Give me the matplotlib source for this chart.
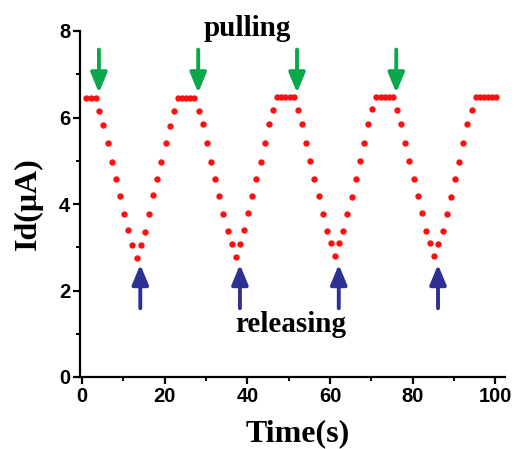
import matplotlib
matplotlib.use("Agg")
import matplotlib.pyplot as plt
from matplotlib.ticker import MultipleLocator
from matplotlib.patches import ArrowStyle

# ---- data ----
time_s = [1.0, 2.2, 3.3,
          4.2, 5.2, 6.2, 7.2, 8.2, 9.2, 10.2, 11.2, 12.2, 13.2,
          14.2, 15.2, 16.2, 17.2, 18.2, 19.2, 20.2, 21.2, 22.2,
          23.2, 24.2, 25.2, 26.2, 27.2,
          28.2, 29.2, 30.2, 31.2, 32.2, 33.2, 34.2, 35.2, 36.2, 37.2,
          38.2, 39.2, 40.2, 41.2, 42.2, 43.2, 44.2, 45.2, 46.2,
          47.2, 48.2, 49.2, 50.2, 51.2,
          52.2, 53.2, 54.2, 55.2, 56.2, 57.2, 58.2, 59.2, 60.2, 61.2,
          62.2, 63.2, 64.2, 65.2, 66.2, 67.2, 68.2, 69.2, 70.2,
          71.2, 72.2, 73.2, 74.2, 75.2,
          76.2, 77.2, 78.2, 79.2, 80.2, 81.2, 82.2, 83.2, 84.2, 85.2,
          86.2, 87.2, 88.2, 89.2, 90.2, 91.2, 92.2, 93.2, 94.2,
          95.2, 96.2, 97.2, 98.2, 99.2, 100.2]

current_uA = [6.45, 6.45, 6.44,
              6.16, 5.83, 5.40, 4.96, 4.57, 4.19, 3.78, 3.39, 3.06, 2.75,
              3.06, 3.36, 3.76, 4.20, 4.57, 4.96, 5.40, 5.80, 6.15,
              6.45, 6.46, 6.46, 6.46, 6.45,
              6.16, 5.84, 5.40, 4.97, 4.57, 4.19, 3.78, 3.38, 3.08, 2.78,
              3.08, 3.39, 3.79, 4.19, 4.58, 4.98, 5.40, 5.84, 6.18,
              6.47, 6.47, 6.47, 6.47, 6.47,
              6.17, 5.84, 5.40, 4.99, 4.58, 4.18, 3.78, 3.37, 3.09, 2.79,
              3.09, 3.37, 3.76, 4.17, 4.57, 4.99, 5.41, 5.84, 6.19,
              6.47, 6.47, 6.48, 6.48, 6.47,
              6.17, 5.84, 5.41, 4.99, 4.58, 4.18, 3.79, 3.37, 3.09, 2.79,
              3.08, 3.37, 3.77, 4.17, 4.57, 4.98, 5.40, 5.84, 6.17,
              6.48, 6.48, 6.48, 6.48, 6.48, 6.48]

pull_times = [4.1, 28.1, 52.0, 76.0]
release_times = [14.1, 38.2, 62.1, 86.1]
pull_tip, pull_tail = 6.57, 7.57
release_tip, release_tail = 2.60, 1.59

x_ticks = [0, 20, 40, 60, 80, 100]
y_ticks = [0, 2, 4, 6, 8]

# ---- figure ----
fig = plt.figure(figsize=(5.18, 4.49), dpi=100)
ax = fig.add_axes([80/518, 72/449, 425/518, 346/449])

ax.plot(time_s, current_uA, linestyle='none', marker='o', markersize=4.6,
        color='#ff1010', markeredgewidth=0)

green = '#0aa84a'
blue = '#2e3192'
style = ArrowStyle('-|>', head_length=0.46, head_width=0.19)
for t in pull_times:
    ax.annotate('', xy=(t, pull_tip), xytext=(t, pull_tail),
                arrowprops=dict(arrowstyle=style, color=green, lw=2.8,
                                mutation_scale=26, shrinkA=0, shrinkB=0),
                annotation_clip=False)
for t in release_times:
    ax.annotate('', xy=(t, release_tip), xytext=(t, release_tail),
                arrowprops=dict(arrowstyle=style, color=blue, lw=2.8,
                                mutation_scale=26, shrinkA=0, shrinkB=0),
                annotation_clip=False)

serif = 'Liberation Serif'
sans = 'Liberation Sans'
ax.text(40, 8.05, 'pulling', fontfamily=serif, fontweight='bold',
        fontsize=21, ha='center', va='center', clip_on=False)
ax.text(50.5, 1.22, 'releasing', fontfamily=serif, fontweight='bold',
        fontsize=21, ha='center', va='center')

ax.set_xlim(-0.48, 102.3)
ax.set_ylim(0, 8)
ax.set_xticks(x_ticks)
ax.set_yticks(y_ticks)
ax.xaxis.set_minor_locator(MultipleLocator(10))
ax.yaxis.set_minor_locator(MultipleLocator(1))

for side in ('top', 'right'):
    ax.spines[side].set_visible(False)
for side in ('left', 'bottom'):
    ax.spines[side].set_linewidth(1.6)

ax.tick_params(which='major', direction='out', length=5, width=1.6, pad=2)
ax.tick_params(which='minor', direction='out', length=3, width=1.4)
for lab in ax.get_xticklabels() + ax.get_yticklabels():
    lab.set_fontfamily(sans)
    lab.set_fontweight('bold')
    lab.set_fontsize(14.5)

ax.set_xlabel('Time(s)', fontfamily=serif, fontweight='bold', fontsize=23)
ax.set_ylabel('Id(μA)', fontfamily=serif, fontweight='bold', fontsize=23)
ax.xaxis.set_label_coords(0.513, -0.122)
ax.yaxis.set_label_coords(-0.088, 0.5)

fig.savefig('out.png', dpi=100)
